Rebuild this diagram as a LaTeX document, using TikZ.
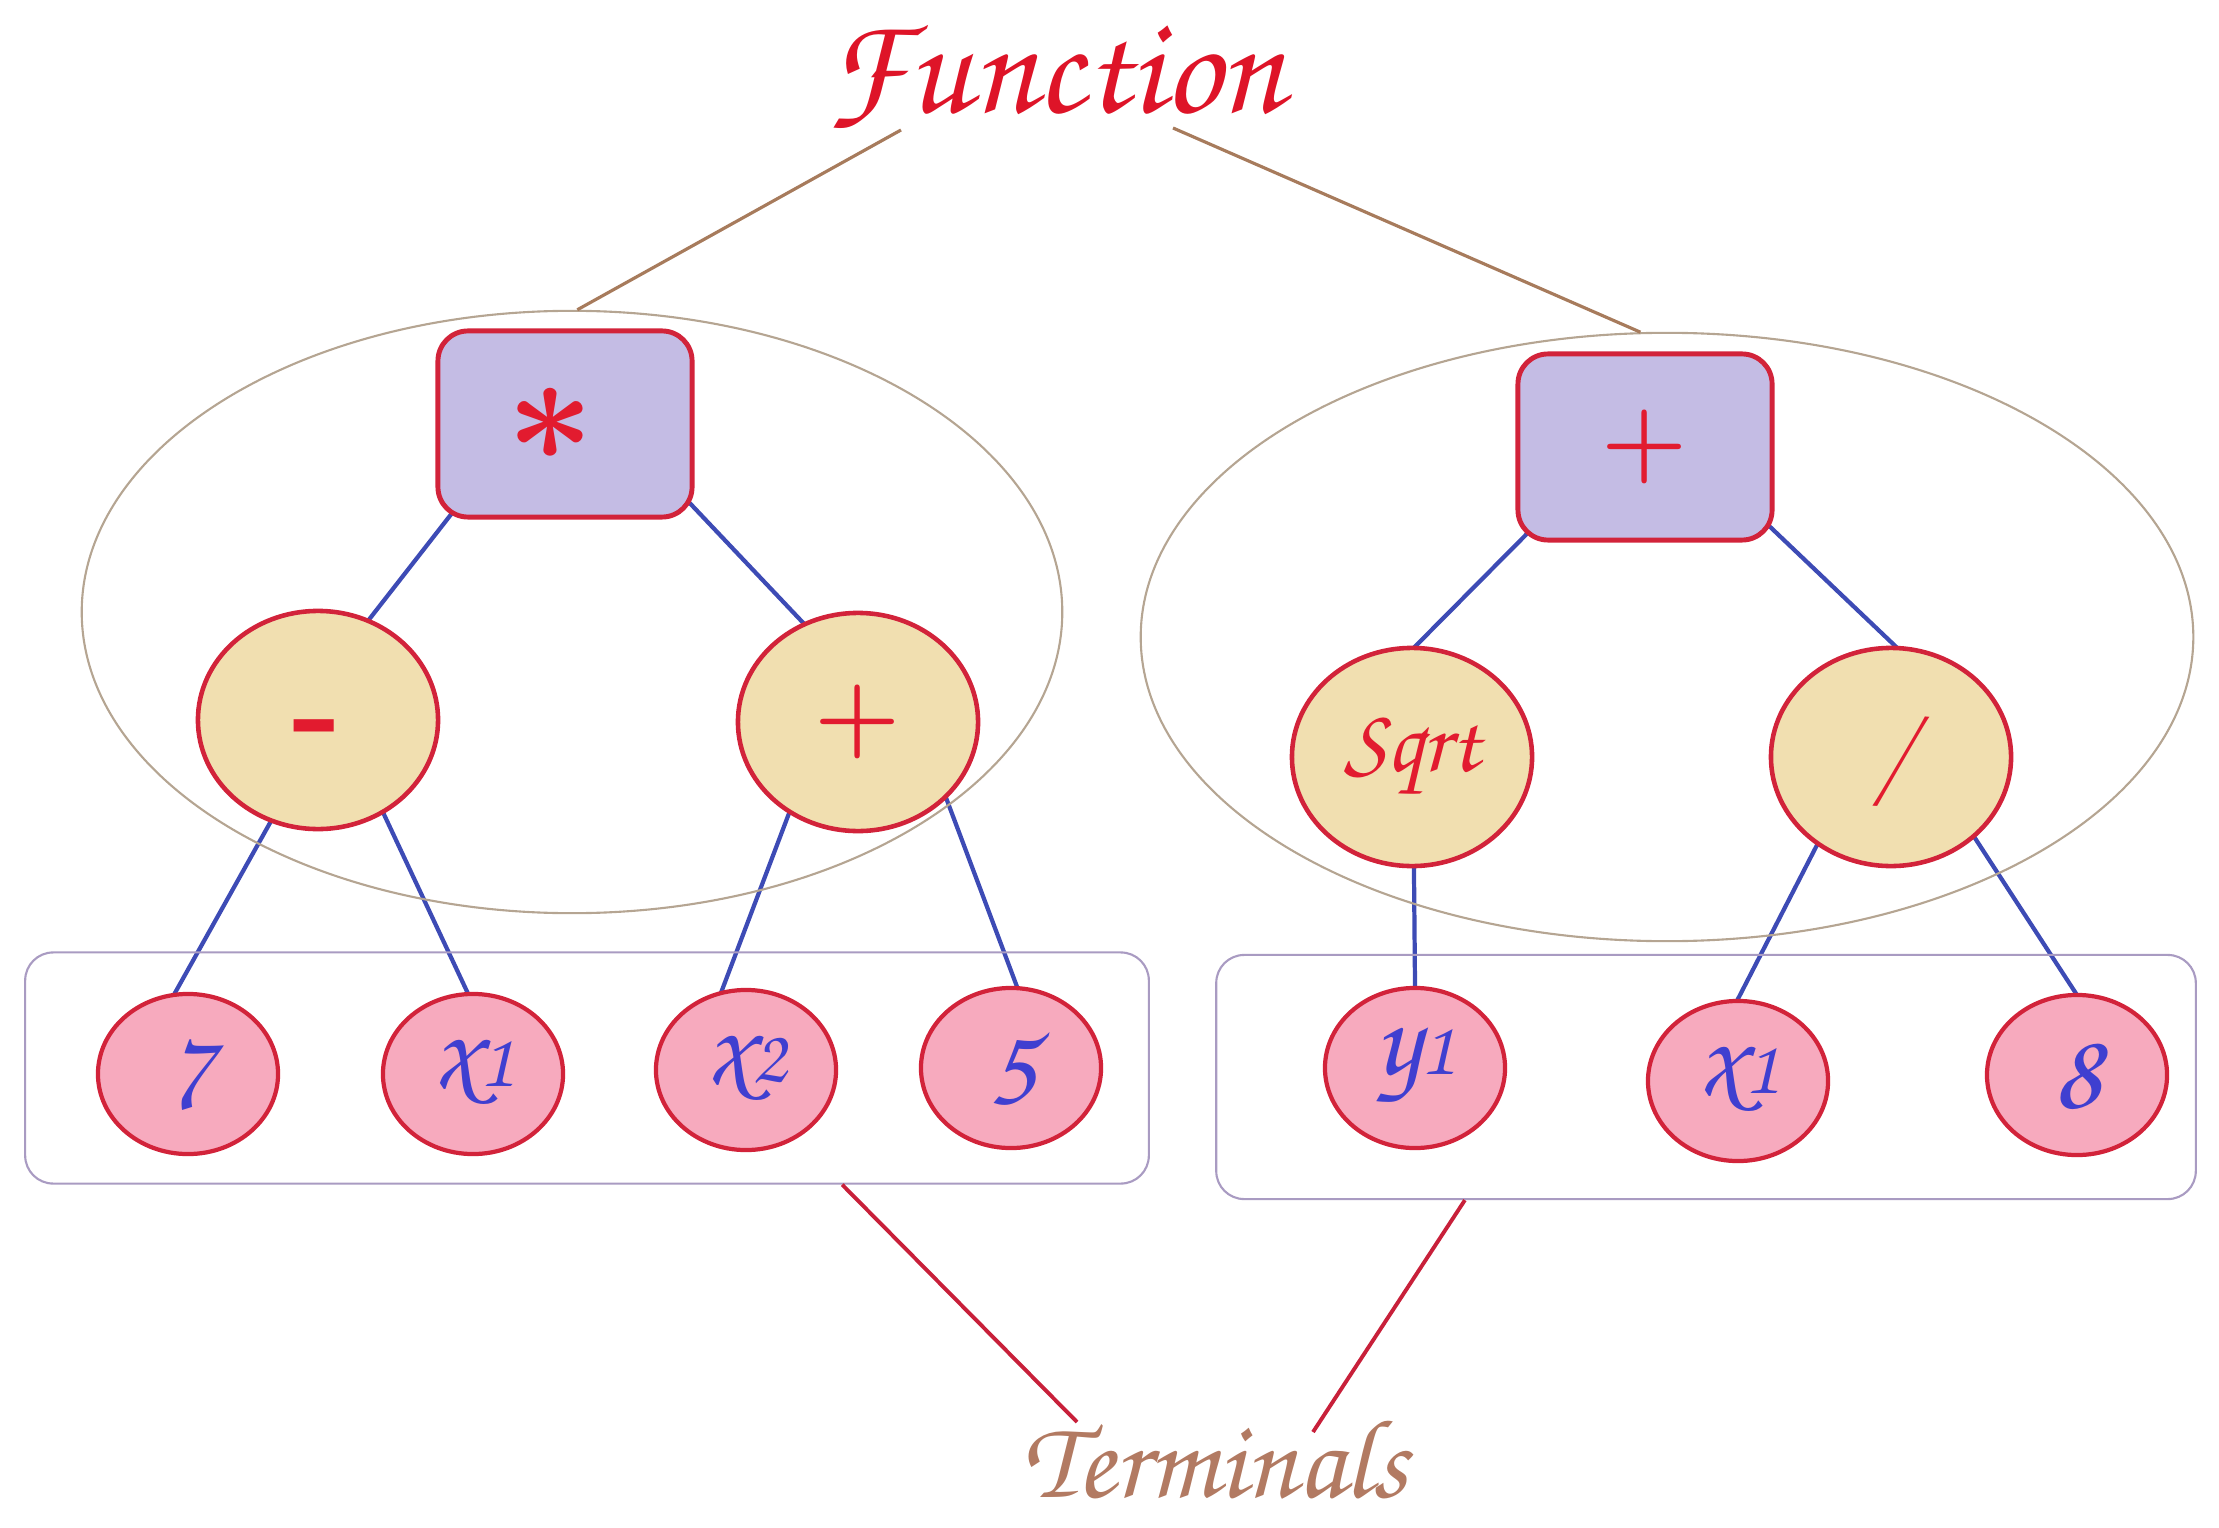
\documentclass[tikz,border=0pt]{standalone}
\usepackage[T1,TU]{fontenc}
\usepackage{graphicx}
\usetikzlibrary{shapes.geometric,backgrounds}
\definecolor{funcred}{HTML}{DE1428}
\definecolor{termbrown}{HTML}{B27A62}
\definecolor{brownline}{HTML}{A77B5C}
\definecolor{redline}{HTML}{C8203A}
\definecolor{nodeborder}{HTML}{D2233A}
\definecolor{lavender}{HTML}{C4BCE4}
\definecolor{wheatfill}{HTML}{F1DFB0}
\definecolor{pinkfill}{HTML}{F7AABE}
\definecolor{blueedge}{HTML}{3D4BB5}
\definecolor{bluetext}{HTML}{3F3FD0}
\definecolor{opred}{HTML}{E21B2F}
\definecolor{bigell}{HTML}{B5A592}
\definecolor{boxline}{HTML}{A99BC2}
\newcommand\chanc{\fontencoding{T1}\fontfamily{pzc}\fontseries{mb}\fontshape{it}\selectfont}
\begin{document}
\begin{tikzpicture}[x=0.01cm,y=-0.01cm,
  opbox/.style={draw=nodeborder, line width=1.4pt, fill=lavender, rounded corners=0.3cm,
    minimum width=2.54cm, minimum height=1.86cm, inner sep=0pt, text=opred},
  opell/.style={ellipse, draw=nodeborder, line width=1.3pt, fill=wheatfill,
    minimum width=2.4cm, minimum height=2.18cm, inner sep=0pt, text=opred},
  termell/.style={ellipse, draw=nodeborder, line width=1.2pt, fill=pinkfill,
    minimum width=1.8cm, minimum height=1.6cm, inner sep=0pt, text=bluetext,
    font=\chanc\fontsize{32}{34}\selectfont},
  groupell/.style={ellipse, draw=bigell, line width=0.6pt, inner sep=0pt},
  termbox/.style={draw=boxline, line width=0.6pt, rounded corners=0.28cm, inner sep=0pt},
  treeedge/.style={draw=blueedge, line width=1.2pt, shorten <=-6pt, shorten >=-6pt},
  funcline/.style={draw=brownline, line width=0.9pt},
  termline/.style={draw=redline, line width=1.1pt}]
\useasboundingbox (0,0) rectangle (2219,1528);

% group outlines
\node[groupell, minimum width=9.8cm, minimum height=6.02cm] (bigL) at (572,612) {};
\node[groupell, minimum width=10.52cm, minimum height=6.08cm] (bigR) at (1667,637) {};
\node[termbox, minimum width=11.23cm, minimum height=2.31cm] (boxL) at (587,1068) {};
\node[termbox, minimum width=9.79cm, minimum height=2.44cm] (boxR) at (1706,1077) {};

% operator nodes
\node[opbox, font=\boldmath\fontsize{24}{26}\selectfont] (mul) at (565,424) {\kern-8pt\scalebox{1.75}{$\ast$}};
\node[opbox, font=\bfseries\fontsize{28}{30}\selectfont] (plusR) at (1645,447) {+};
\node[opell, font=\bfseries\fontsize{38}{40}\selectfont] (minus) at (318,720) {\raisebox{-10pt}[0pt][0pt]{-}};
\node[opell, font=\bfseries\fontsize{28}{30}\selectfont] (plusL) at (858,722) {+};
\node[opell, font=\chanc\fontsize{26}{28}\selectfont] (sqrt) at (1412,757) {Sqrt};
\node[opell, font=\chanc\fontsize{30}{32}\selectfont] (div) at (1891,757) {/};

% terminal nodes
\node[termell] (t7) at (188,1074) {7};
\node[termell] (tx1) at (473,1074) {x{\fontsize{22}{24}\selectfont 1}};
\node[termell] (tx2) at (746,1070) {x{\fontsize{22}{24}\selectfont 2}};
\node[termell] (t5) at (1011,1068) {5};
\node[termell] (ty1) at (1415,1068) {y{\fontsize{22}{24}\selectfont 1}};
\node[termell] (tx1b) at (1738,1081) {x{\fontsize{22}{24}\selectfont 1}};
\node[termell] (t8) at (2077,1075) {8};

% titles
\node[text=funcred, font=\chanc\fontsize{40}{44}\selectfont] (func) at (1055,78) {Function};
\node[text=termbrown, font=\chanc\fontsize{32}{34}\selectfont] (terms) at (1215,1458) {Terminals};

% tree edges (behind nodes)
\begin{scope}[on background layer]
\draw[treeedge] (mul.-141.8) -- (minus.63.9);
\draw[treeedge] (mul.-33.8) -- (plusL.119.1);
\draw[treeedge] (minus.-115.3) -- (t7.99.3);
\draw[treeedge] (minus.-55.6) -- (tx1.94.5);
\draw[treeedge] (plusL.-127.3) -- (tx2.107);
\draw[treeedge] (plusL.-41.4) -- (t5.86.3);
\draw[treeedge] (plusR.-143.1) -- (sqrt.88.4);
\draw[treeedge] (plusR.-33.8) -- (div.88.4);
\draw[treeedge] (sqrt.-89) -- (ty1.90);
\draw[treeedge] (div.-130.1) -- (tx1b.90);
\draw[treeedge] (div.-44.3) -- (t8.91.5);
\end{scope}

% label connectors
\draw[funcline] ([shift={(-154,52)}]func.center) -- (bigL.89);
\draw[funcline] ([shift={(118,50)}]func.center) -- (bigR.95.6);
\draw[termline] ([xshift=2.55cm]boxL.south) -- ([shift={(-138,-36)}]terms.center);
\draw[termline] ([xshift=-2.41cm]boxR.south) -- ([shift={(98,-26)}]terms.center);
\end{tikzpicture}
\end{document}
